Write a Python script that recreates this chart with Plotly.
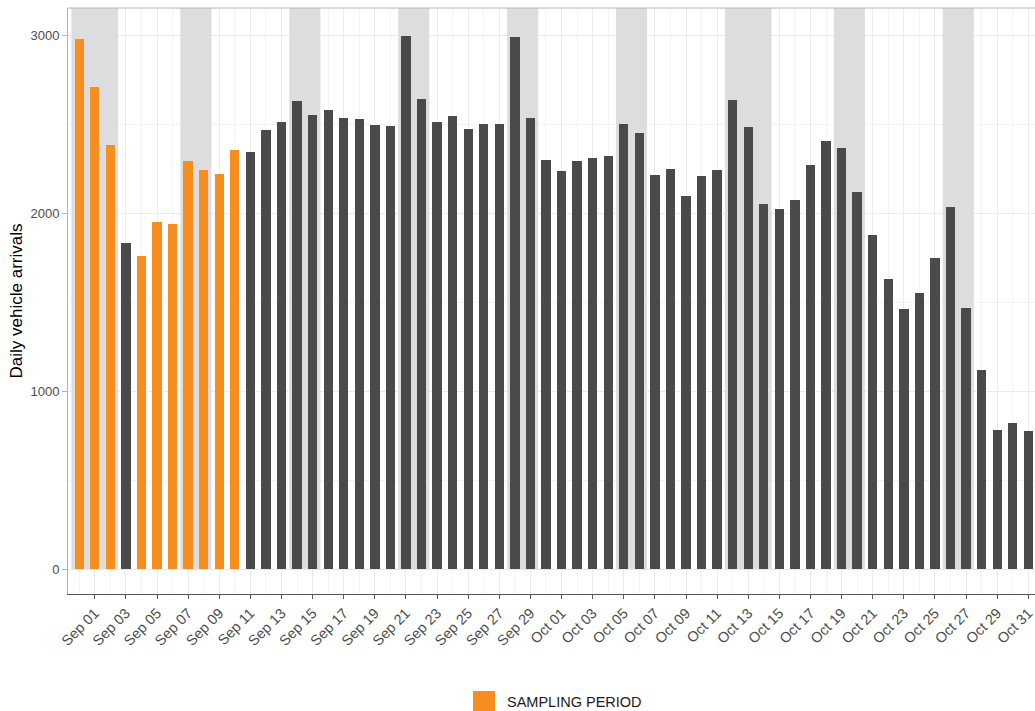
import pandas as pd
import plotly.graph_objects as go

# Bar positions (one per day) and daily arrivals
dates = list(pd.date_range("2018-08-31", "2018-10-31", freq="D"))
arrivals = [2978, 2709, 2384, 1832, 1761, 1953, 1938, 2292, 2243, 2221,
            2352, 2346, 2468, 2513, 2630, 2552, 2580, 2533, 2527, 2496,
            2490, 2997, 2642, 2510, 2544, 2475, 2499, 2499, 2987, 2533,
            2297, 2234, 2294, 2307, 2320, 2501, 2451, 2215, 2249, 2094,
            2208, 2240, 2634, 2485, 2053, 2026, 2073, 2273, 2406, 2363,
            2118, 1875, 1628, 1460, 1551, 1748, 2034, 1469, 1118, 781,
            822, 777]
sampling = [1, 1, 1, 0, 1, 1, 1, 1, 1, 1, 1] + [0] * 51

# Shaded (weekend / holiday) periods: first and last shaded day
shade_start = ["2018-08-31", "2018-09-07", "2018-09-14", "2018-09-21", "2018-09-28",
               "2018-10-05", "2018-10-12", "2018-10-19", "2018-10-26"]
shade_end = ["2018-09-02", "2018-09-08", "2018-09-15", "2018-09-22", "2018-09-29",
             "2018-10-06", "2018-10-14", "2018-10-20", "2018-10-27"]

legend_label = "SAMPLING PERIOD"
y_title = "Daily vehicle arrivals"

ORANGE = "#F68D1F"
DARK = "#4A4A4C"
SHADE = "#DCDDDF"
DAY = 86400000
FONT = "Liberation Sans, Arial, sans-serif"

colors = [ORANGE if s else DARK for s in sampling]

fig = go.Figure()
fig.add_trace(go.Bar(
    x=dates, y=arrivals, width=0.6 * DAY,
    marker=dict(color=colors, line=dict(width=0)),
    showlegend=False,
))

Y_MAX = 3152
half = pd.Timedelta(hours=12)
for s, e in zip(shade_start, shade_end):
    fig.add_shape(type="rect", xref="x", yref="y",
                  x0=pd.Timestamp(s) - half, x1=pd.Timestamp(e) + half,
                  y0=0, y1=Y_MAX, fillcolor=SHADE, line=dict(width=0),
                  layer="between")

# top border of panel
fig.add_shape(type="line", xref="paper", yref="paper", x0=0, x1=1, y0=1, y1=1,
              line=dict(color="#b3b3b3", width=1))

# manual legend
fig.add_shape(type="rect", xref="paper", yref="paper",
              x0=0.4188, x1=0.4416, y0=-0.1655, y1=-0.205,
              fillcolor=ORANGE, line=dict(width=0))
fig.add_annotation(xref="paper", yref="paper", x=0.4519, y=-0.184,
                   text=legend_label, showarrow=False, xanchor="left", yanchor="middle",
                   font=dict(family=FONT, size=14.5, color="#1a1a1a"))

fig.update_layout(
    width=1035, height=711, autosize=False,
    margin=dict(l=68, r=0, t=8, b=117, autoexpand=False),
    paper_bgcolor="white", plot_bgcolor="white",
    font=dict(family=FONT),
    bargap=0,
)
fig.update_xaxes(
    type="date", automargin=False,
    range=["2018-08-30 06:40", "2018-10-31 10:20"],
    tick0="2018-09-01", dtick=2 * DAY, tickformat="%b %d",
    tickangle=-45, tickfont=dict(size=14.5, color="#4d4d4d"),
    ticklabeloverflow="allow",
    ticks="outside", ticklen=4, tickcolor="#555555",
    showline=True, linecolor="#555555", linewidth=1,
    showgrid=True, gridcolor="#ebebeb", gridwidth=1,
    minor=dict(dtick=DAY, showgrid=True, gridcolor="#f4f4f4", gridwidth=1),
    zeroline=False,
)
fig.update_yaxes(
    range=[-139, Y_MAX], automargin=False,
    tickvals=[0, 1000, 2000, 3000],
    tickfont=dict(size=13, color="#4d4d4d"),
    ticks="outside", ticklen=5, tickcolor="#b3b3b3",
    showline=True, linecolor="#b3b3b3", linewidth=1,
    showgrid=True, gridcolor="#ebebeb", gridwidth=1,
    minor=dict(tickvals=[500, 1500, 2500], showgrid=True, gridcolor="#f4f4f4", gridwidth=1),
    zeroline=False,
    title=dict(text=y_title, font=dict(size=17, color="black"), standoff=3),
)

fig.write_html("out.html", config={"displayModeBar": False},
               post_script="document.body.style.margin='0';document.body.style.overflow='hidden';")
